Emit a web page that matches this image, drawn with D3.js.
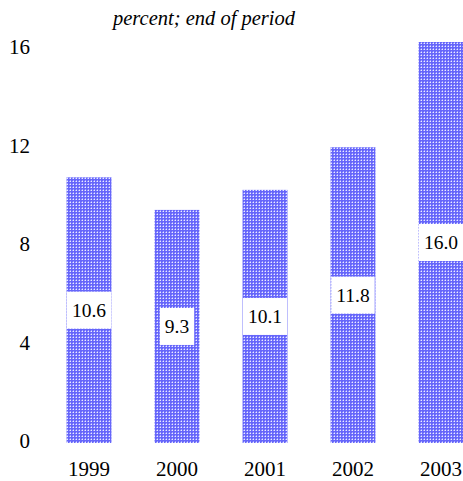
<!DOCTYPE html>
<html><head><meta charset="utf-8">
<script src="https://cdn.jsdelivr.net/npm/d3@7"></script>
<style>body{margin:0;background:#fff}svg{display:block}
svg text{font-family:"Liberation Serif","Times New Roman",Times,serif !important;}</style>
</head><body>
<script>
const years = ["1999","2000","2001","2002","2003"];
const values = [10.6, 9.3, 10.1, 11.8, 16.0];
const yTicks = [0, 4, 8, 12, 16];
const subtitle = "percent; end of period";

const W = 463, H = 481;
const svg = d3.select("body").append("svg").attr("width", W).attr("height", H);
const defs = svg.append("defs");
const pat = defs.append("pattern").attr("id","dots").attr("patternUnits","userSpaceOnUse")
  .attr("width",3).attr("height",3);
pat.append("rect").attr("width",3).attr("height",3).attr("fill","#6666fa");
pat.append("rect").attr("x",1).attr("y",1).attr("width",1).attr("height",1).attr("fill","#ececff");
pat.append("rect").attr("x",0).attr("y",1).attr("width",1).attr("height",1).attr("fill","#a0a0ff");
pat.append("rect").attr("x",1).attr("y",0).attr("width",1).attr("height",1).attr("fill","#a0a0ff");

const x = d3.scaleBand().domain(years).range([45, 485]).paddingInner(0.49).paddingOuter(0.245);
const y = d3.scaleLinear().domain([0,16]).range([443, 42]);
const yLab = d3.scaleLinear().domain([0,16]).range([441, 47]);

svg.append("text").attr("x",204).attr("y",25).attr("text-anchor","middle")
  .attr("font-style","italic").attr("font-size",20.5).text(subtitle);

const yAxis = svg.append("g").attr("transform","translate(30,0)")
  .call(d3.axisLeft(yLab).tickValues(yTicks).tickSize(0).tickPadding(0).tickFormat(d3.format("d")));
yAxis.select(".domain").remove();
yAxis.selectAll("text").attr("font-size",21).attr("fill","#000");

const xAxis = svg.append("g").attr("transform","translate(0,459)")
  .call(d3.axisBottom(x).tickSize(0).tickPadding(0));
xAxis.select(".domain").remove();
xAxis.selectAll("text").attr("font-size",21).attr("fill","#000").attr("dy","0.8em");

svg.selectAll("rect.bar").data(values).join("rect").attr("class","bar")
  .attr("x",(d,i)=>x(years[i])).attr("width",x.bandwidth())
  .attr("y",d=>y(d)).attr("height",d=>y(0)-y(d)).attr("fill","url(#dots)");

const lab = svg.selectAll("g.lab").data(values).join("g").attr("class","lab")
  .attr("transform",(d,i)=>`translate(${x(years[i])+x.bandwidth()/2},${y(d/2)})`);
lab.each(function(d){
  const g = d3.select(this);
  const t = g.append("text").attr("text-anchor","middle").attr("dy","0.35em")
    .attr("font-size",19.5).text(d.toFixed(1));
  const bb = t.node().getBBox();
  g.insert("rect","text").attr("x",bb.x-5).attr("y",-18.5).attr("width",bb.width+10).attr("height",37)
    .attr("fill","#fff");
});
</script>
</body></html>
